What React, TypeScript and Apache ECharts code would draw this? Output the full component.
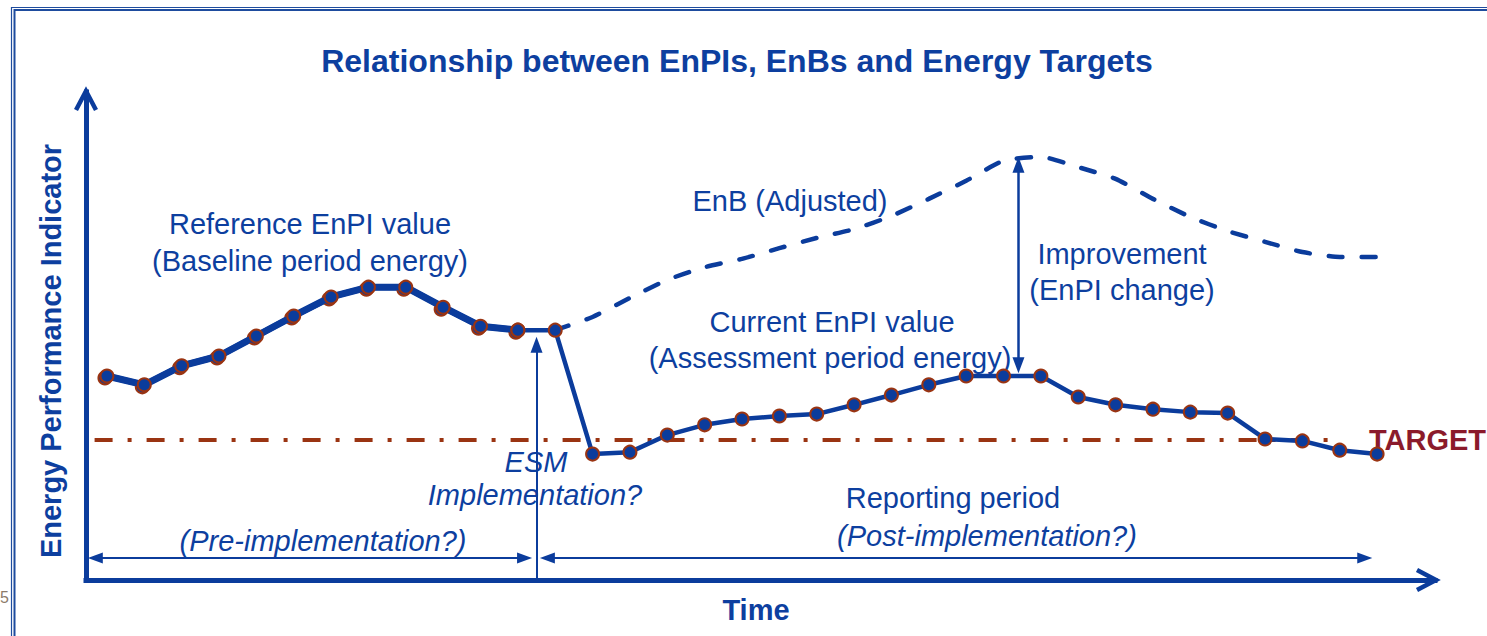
import React, { useEffect, useRef } from 'react';
import * as echarts from 'echarts';

// ---- data (period index on x, EnPI value on y) ----
const baselineStart = 0;
const baselineEnPI = [41.8, 40.0, 43.9, 45.9, 50.0, 54.1, 58.0, 60.0, 60.0, 55.9, 52.0, 51.2];
const currentStart = 11;
const currentEnPI = [51.2, 51.2, 25.8, 26.2, 29.7, 31.8, 33.0, 33.6, 34.0, 35.9, 37.9, 40.0, 41.8, 41.8, 41.8, 37.5, 35.9, 35.0, 34.4, 34.2, 28.9, 28.5, 26.6, 25.8];
const enbStart = 12;
const adjustedEnB = [51.2, 53.9, 57.8, 61.5, 64.1, 65.8, 68.0, 70.1, 71.9, 74.6, 78.1, 81.8, 85.9, 86.7, 84.6, 82.2, 78.1, 74.4, 71.5, 69.3, 67.2, 66.2, 66.2];
const targetValue = 28.7;
const targetRange = [-0.33, 33.0];
const esmPeriod = 11.5;
const esmArrowTop = 48.2;
const improvementPeriod = 24.4;
const improvementRange = [85.1, 44.0];
const spanLevel = 4.5;
const preRange = [-0.31, 11.18];
const postRange = [11.79, 33.67];
const xRange = [-0.56, 35.55];
const yRange = [0, 100];

const BLUE = '#0B3C9C';
const TEXT_BLUE = '#0D3F9F';
const BROWN = '#9A3412';
const FONT = '"Liberation Sans", Arial, Helvetica, sans-serif';

const toPairs = (start: number, vals: number[]) => vals.map((v, i) => [start + i, v]);

export default function App() {
  const ref = useRef<HTMLDivElement>(null);
  useEffect(() => {
    if (!ref.current) return;
    const chart = echarts.init(ref.current, undefined, { renderer: 'svg' });
    const G = { left: 86, right: 52, top: 92, bottom: 56 };
    const W = 1487, H = 636;
    const axisBottom = H - G.bottom;
    const axisRight = W - G.right;

    const txt = (text: string, x: number, y: number, extra: any = {}) => ({
      type: 'text', x, y, silent: true,
      style: {
        text, fill: extra.fill || TEXT_BLUE,
        font: `${extra.italic ? 'italic ' : ''}${extra.bold ? 'bold ' : ''}${extra.size || 29}px ${FONT}`,
        textAlign: extra.align || 'center', textVerticalAlign: 'middle',
      },
      ...(extra.rotation ? { rotation: extra.rotation } : {}),
    });

    const arrowLine = (from: number[], to: number[], syms: string[], width: number, size: number[]) => ([
      { coord: from, symbol: syms[0], symbolSize: size, lineStyle: { color: BLUE, width, type: 'solid' } },
      { coord: to, symbol: syms[1], symbolSize: size },
    ]);

    const option: any = {
      animation: false,
      grid: { left: G.left, right: G.right, top: G.top, bottom: G.bottom },
      xAxis: {
        type: 'value', min: xRange[0], max: xRange[1],
        axisLine: { show: true, onZero: false, lineStyle: { color: BLUE, width: 5, cap: 'square' } },
        axisTick: { show: false }, axisLabel: { show: false }, splitLine: { show: false },
      },
      yAxis: {
        type: 'value', min: yRange[0], max: yRange[1],
        axisLine: { show: true, onZero: false, lineStyle: { color: BLUE, width: 5, cap: 'square' } },
        axisTick: { show: false }, axisLabel: { show: false }, splitLine: { show: false },
      },
      series: [
        {
          name: 'Target', type: 'line', data: [[targetRange[0], targetValue], [targetRange[1], targetValue]],
          showSymbol: false, symbol: 'none',
          lineStyle: { color: BROWN, width: 4, type: [18, 15, 4, 15] }, z: 1,
          markLine: {
            silent: true, label: { show: false },
            lineStyle: { color: BLUE, type: 'solid' },
            data: [
              arrowLine([esmPeriod, 0], [esmPeriod, esmArrowTop], ['none', 'triangle'], 2, [12, 16]),
              arrowLine([improvementPeriod, improvementRange[0]], [improvementPeriod, improvementRange[1]], ['triangle', 'triangle'], 2.5, [12, 16]),
              arrowLine([preRange[0], spanLevel], [preRange[1], spanLevel], ['triangle', 'triangle'], 2, [11, 15]),
              arrowLine([postRange[0], spanLevel], [postRange[1], spanLevel], ['triangle', 'triangle'], 2, [11, 15]),
            ],
          },
        },
        {
          name: 'EnB (Adjusted)', type: 'line', data: toPairs(enbStart, adjustedEnB),
          showSymbol: false, symbol: 'none', smooth: 0.2,
          lineStyle: { color: BLUE, width: 4.5, type: [14, 19], cap: 'round' }, z: 2,
        },
        {
          name: 'Baseline shadow', type: 'line', data: toPairs(baselineStart, baselineEnPI),
          symbol: 'circle', symbolSize: 13, symbolOffset: [-2, 2],
          itemStyle: { color: BLUE, borderColor: BROWN, borderWidth: 2 },
          lineStyle: { color: BLUE, width: 7 }, z: 3,
        },
        {
          name: 'Reference EnPI', type: 'line', data: toPairs(baselineStart, baselineEnPI),
          symbol: 'circle', symbolSize: 13,
          itemStyle: { color: BLUE, borderColor: BROWN, borderWidth: 2 },
          lineStyle: { color: BLUE, width: 6 }, z: 4,
        },
        {
          name: 'Current EnPI', type: 'line', data: toPairs(currentStart, currentEnPI),
          symbol: 'circle', symbolSize: 13,
          itemStyle: { color: BLUE, borderColor: BROWN, borderWidth: 2 },
          lineStyle: { color: BLUE, width: 4.5 }, z: 4,
        },
      ],
      graphic: [
        { type: 'rect', silent: true, shape: { x: 11.5, y: 7.5, width: 1600, height: 800 }, style: { fill: 'none', stroke: '#1E4C9E', lineWidth: 1.2 } },
        { type: 'rect', silent: true, shape: { x: 14.5, y: 10, width: 1600, height: 800 }, style: { fill: 'none', stroke: '#1E4C9E', lineWidth: 2 } },
        { type: 'polyline', silent: true, shape: { points: [[G.left - 10, G.top + 18], [G.left, G.top - 1], [G.left + 10, G.top + 18]] }, style: { fill: 'none', stroke: BLUE, lineWidth: 4.5 } },
        { type: 'polyline', silent: true, shape: { points: [[axisRight - 18, axisBottom - 10], [axisRight + 1, axisBottom], [axisRight - 18, axisBottom + 10]] }, style: { fill: 'none', stroke: BLUE, lineWidth: 4.5 } },
        txt('Relationship between EnPIs, EnBs and Energy Targets', 737, 61, { bold: true, size: 32 }),
        txt('Energy Performance Indicator', 51, 351, { bold: true, size: 29, rotation: Math.PI / 2 }),
        txt('Time', 756, 610, { bold: true, size: 29 }),
        txt('Reference EnPI value', 310, 224),
        txt('(Baseline period energy)', 310, 261),
        txt('EnB (Adjusted)', 790, 201),
        txt('Improvement', 1122, 254),
        txt('(EnPI change)', 1122, 290),
        txt('Current EnPI value', 832, 322),
        txt('(Assessment period energy)', 830, 358),
        txt('ESM', 536, 462, { italic: true }),
        txt('Implementation?', 535, 495, { italic: true }),
        txt('Reporting period', 953, 498),
        txt('(Post-implementation?)', 987, 536, { italic: true }),
        txt('(Pre-implementation?)', 323, 541, { italic: true }),
        txt('TARGET', 1369, 440, { bold: true, size: 29, align: 'left', fill: '#8B1A2B' }),
        txt('5', 9, 597, { size: 16, align: 'right', fill: '#8C7B6B' }),
      ],
    };
    chart.setOption(option);
    return () => chart.dispose();
  }, []);
  return <div ref={ref} style={{ position: 'absolute', left: 0, top: 0, width: 1487, height: 636, background: '#fff' }} />;
}
